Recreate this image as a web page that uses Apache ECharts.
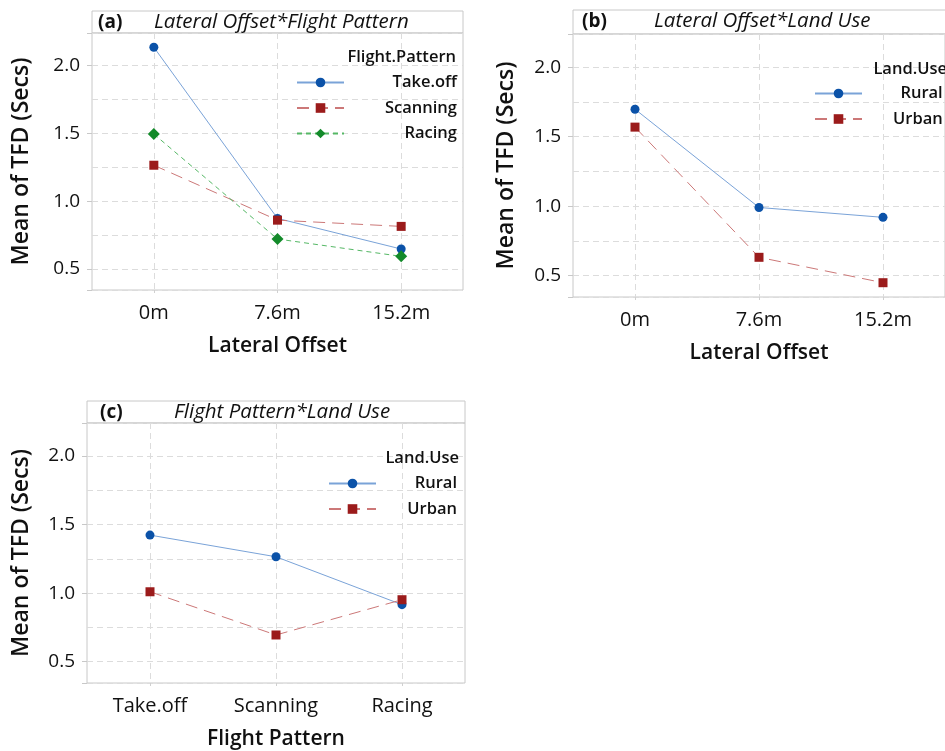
<!DOCTYPE html>
<html>
<head>
<meta charset="utf-8">
<script src="https://cdn.jsdelivr.net/npm/echarts@6/dist/echarts.min.js"></script>
<style>
html,body{margin:0;padding:0;background:#fff;}
#chart{width:945px;height:751px;}
</style>
</head>
<body>
<div id="chart"></div>
<script>
// ---- data ----
const offsetCategories = ['0m', '7.6m', '15.2m'];
const patternCategories = ['Take.off', 'Scanning', 'Racing'];
// (a) Lateral Offset * Flight Pattern
const aTakeoff = [2.135, 0.873, 0.647];
const aScanning = [1.265, 0.860, 0.814];
const aRacing = [1.495, 0.721, 0.593];
// (b) Lateral Offset * Land Use
const bRural = [1.698, 0.990, 0.919];
const bUrban = [1.569, 0.631, 0.448];
// (c) Flight Pattern * Land Use
const cRural = [1.423, 1.265, 0.916];
const cUrban = [1.010, 0.695, 0.952];
const yTickLabels = [0.5, 1.0, 1.5, 2.0];

const FONT = "'Open Sans', 'Noto Sans', sans-serif";
const GRID_BORDER = '#c8c8c8';
const GRID_LINE = '#dcdcdc';

const styles = {
  takeoff: {color: '#0b52a8', line: '#7aa3d8', type: 'solid', symbol: 'circle', size: 9},
  scanning: {color: '#9b1b1b', line: '#cc7878', type: [12, 7], symbol: 'rect', size: 9},
  racing: {color: '#138a2a', line: '#55b865', type: [5, 4], symbol: 'diamond', size: 12}
};

const grids = [
  {left: 92, top: 33, width: 371, height: 257},
  {left: 573, top: 34, width: 379, height: 263},
  {left: 87, top: 423, width: 378, height: 263}
];

function xAxis(idx, cats, name) {
  return {
    type: 'category', gridIndex: idx, data: cats, boundaryGap: true,
    name: name, nameLocation: 'middle', nameGap: 46,
    nameTextStyle: {fontFamily: FONT, fontSize: 21, fontWeight: 600, color: '#111'},
    axisLine: {show: false},
    axisTick: {show: true, alignWithLabel: true, length: 5, lineStyle: {color: '#d0d0d0', type: [3, 2]}},
    axisLabel: {margin: 13, fontFamily: FONT, fontSize: 20, color: '#111'},
    splitLine: {show: true, alignWithLabel: true, lineStyle: {color: GRID_LINE, type: [6, 4], width: 1}}
  };
}
function yAxis(idx, gap) {
  return {
    type: 'value', gridIndex: idx, min: 0.345, max: 2.24, splitNumber: 4,
    name: 'Mean of TFD (Secs)', nameLocation: 'middle', nameGap: gap,
    nameTextStyle: {fontFamily: FONT, fontSize: 23, fontWeight: 600, color: '#111'},
    axisLine: {show: false},
    axisTick: {show: true, length: 5, lineStyle: {color: '#c8c8c8'}},
    minorTick: {show: false, splitNumber: 2},
    axisLabel: {
      margin: 12, fontFamily: FONT, fontSize: 19, color: '#111',
      showMinLabel: true, showMaxLabel: true,
      formatter: function (v) {
        for (const t of yTickLabels) { if (Math.abs(v - t) < 1e-6) return t.toFixed(1); }
        return '';
      }
    },
    splitLine: {show: true, lineStyle: {color: GRID_LINE, type: [6, 4], width: 1}},
    minorSplitLine: {show: true, lineStyle: {color: GRID_LINE, type: [6, 4], width: 1}}
  };
}
function line(name, data, st, idx) {
  return {
    type: 'line', name: name, data: data, xAxisIndex: idx, yAxisIndex: idx,
    symbol: st.symbol, symbolSize: st.size, showSymbol: true,
    itemStyle: {color: st.color},
    lineStyle: {color: st.line, width: 1, type: st.type},
    animation: false
  };
}
function legend(idx, names, left, top, textWidth) {
  return {
    show: true, orient: 'vertical', left: left, top: top,
    itemWidth: 47, itemHeight: 12, itemGap: 8.5, padding: 0,
    data: names, selectedMode: false,
    formatter: '{t|{name}}',
    textStyle: {
      fontFamily: FONT, fontSize: 16, fontWeight: 600, color: '#111',
      rich: {t: {width: textWidth, align: 'right', fontFamily: FONT, fontSize: 16.5, fontWeight: 600, color: '#111', lineHeight: 14}}
    }
  };
}

const stripTitles = [
  {tag: '(a)', txt: 'Lateral Offset*Flight Pattern', tagX: 98, txtX: 154, top: 11},
  {tag: '(b)', txt: 'Lateral Offset*Land Use', tagX: 582, txtX: 654, top: 10},
  {tag: '(c)', txt: 'Flight Pattern*Land Use', tagX: 100, txtX: 174, top: 401}
];
const titles = [];
stripTitles.forEach(s => {
  titles.push({text: s.tag, left: s.tagX, top: s.top, padding: 0,
    textStyle: {fontFamily: FONT, fontSize: 19, fontWeight: 700, color: '#111', lineHeight: 23}});
  titles.push({text: s.txt, left: s.txtX, top: s.top, padding: 0,
    textStyle: {fontFamily: FONT, fontSize: 20.5, fontStyle: 'italic', fontWeight: 400, color: '#111', lineHeight: 23}});
});
titles.push({text: 'Flight.Pattern', right: 945 - 456, top: 48, padding: 0,
  textStyle: {fontFamily: FONT, fontSize: 16.5, fontWeight: 600, color: '#111', lineHeight: 18}});
titles.push({text: 'Land.Use', right: -2, top: 60, padding: 0,
  textStyle: {fontFamily: FONT, fontSize: 16.5, fontWeight: 600, color: '#111', lineHeight: 18}});
titles.push({text: 'Land.Use', right: 945 - 459, top: 449, padding: 0,
  textStyle: {fontFamily: FONT, fontSize: 16.5, fontWeight: 600, color: '#111', lineHeight: 18}});

const option = {
  backgroundColor: '#fff',
  animation: false,
  title: titles,
  graphic: [
    {type: 'rect', shape: {x: 92, y: 11, width: 371, height: 22}, style: {fill: '#fff', stroke: GRID_BORDER, lineWidth: 1}, z: -1},
    {type: 'rect', shape: {x: 573, y: 10, width: 379, height: 24}, style: {fill: '#fff', stroke: GRID_BORDER, lineWidth: 1}, z: -1},
    {type: 'rect', shape: {x: 87, y: 401, width: 378, height: 22}, style: {fill: '#fff', stroke: GRID_BORDER, lineWidth: 1}, z: -1}
  ],
  grid: grids.map(g => Object.assign({show: true, borderColor: GRID_BORDER, borderWidth: 1, backgroundColor: 'transparent', containLabel: false}, g)),
  xAxis: [
    xAxis(0, offsetCategories, 'Lateral Offset'),
    xAxis(1, offsetCategories, 'Lateral Offset'),
    xAxis(2, patternCategories, 'Flight Pattern')
  ],
  yAxis: [yAxis(0, 59), yAxis(1, 55), yAxis(2, 54)],
  legend: [
    legend(0, ['Take.off', 'Scanning', 'Racing'], 296, 74, 108),
    legend(1, ['Rural ', 'Urban '], 814, 85, 80),
    legend(2, ['Rural', 'Urban'], 328, 475, 76)
  ],
  series: [
    line('Take.off', aTakeoff, styles.takeoff, 0),
    line('Scanning', aScanning, styles.scanning, 0),
    line('Racing', aRacing, styles.racing, 0),
    line('Rural ', bRural, styles.takeoff, 1),
    line('Urban ', bUrban, styles.scanning, 1),
    line('Rural', cRural, styles.takeoff, 2),
    line('Urban', cUrban, styles.scanning, 2)
  ]
};
const chart = echarts.init(document.getElementById('chart'), null, {renderer: 'canvas'});
chart.setOption(option);
</script>
</body>
</html>
